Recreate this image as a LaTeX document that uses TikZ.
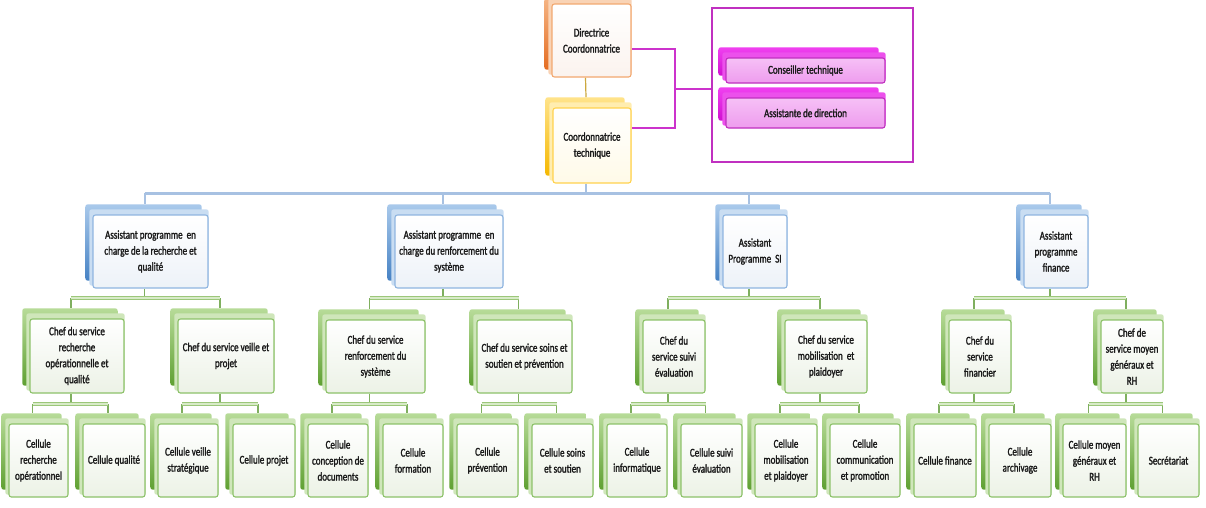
\documentclass[tikz,border=0pt]{standalone}
\usepackage{fontspec}
\setmainfont{Carlito}[FakeStretch=0.75,FakeBold=1.6]
\usetikzlibrary{calc}
\pgfdeclarelayer{lines}
\pgfdeclarelayer{backs}
\pgfsetlayers{lines,backs,main}
% green
\definecolor{gtop}{HTML}{B7DB98}\definecolor{gbot}{HTML}{5FA032}\definecolor{gmid}{HTML}{CFE6BA}
\definecolor{gline}{HTML}{8DC26A}\definecolor{gfill}{HTML}{ECF2E6}
\definecolor{gbarin}{HTML}{D8EBC8}\definecolor{gbarout}{HTML}{9CC77A}
% blue
\definecolor{btop}{HTML}{A9C9EB}\definecolor{bbot}{HTML}{4682C4}\definecolor{bmid}{HTML}{C9DDF2}
\definecolor{bline}{HTML}{8FB5E0}\definecolor{bfill}{HTML}{EDF2F8}
\definecolor{bbarc}{HTML}{A7C1E2}
% orange
\definecolor{otop}{HTML}{F6B98A}\definecolor{obot}{HTML}{E46C22}\definecolor{omid}{HTML}{F9D3B5}
\definecolor{oline}{HTML}{F2A870}\definecolor{ofill}{HTML}{FBF3EE}
% yellow
\definecolor{ytop}{HTML}{FFE38A}\definecolor{ybot}{HTML}{F5B800}\definecolor{ymid}{HTML}{FFEDB0}
\definecolor{yline}{HTML}{FFD24D}\definecolor{yfill}{HTML}{FFFAE8}
% magenta
\definecolor{mtop}{HTML}{F040F0}\definecolor{mbot}{HTML}{D010D0}\definecolor{mmid}{HTML}{EC50EC}
\definecolor{mline}{HTML}{C030C0}\definecolor{mfill}{HTML}{EE9CEE}\definecolor{mfilltop}{HTML}{F6C0F6}
\definecolor{mconn}{HTML}{CC33CC}
\definecolor{txt}{HTML}{1A1A1A}
\tikzset{
  card/.style={draw=#1line, line width=1.1pt, top color=white, bottom color=#1fill,
    rounded corners=2.5pt, align=center, inner sep=1pt, text=txt,
    font=\fontsize{12}{16}\selectfont},
  tconn/.style={draw=yline!80!black, line width=1.2pt},
  mlink/.style={draw=mconn, line width=2pt},
  mframe/.style={draw=mline, line width=1.8pt, minimum width=201pt, minimum height=154pt, inner sep=0pt},
  bvl/.style={draw=bbarc, line width=2pt},
  bbar/.style={draw=bbarc, line width=3pt},
  gvl/.style={draw=gline!90!black, line width=1.2pt},
  gbar/.style={draw=gbarout, line width=0.7pt, double=gbarin, double distance=2.5pt},
}
\newcommand\orgcard[8][]{%
  \node[card=#7,minimum width={(#5-#3)*1pt},minimum height={(#6-#4)*1pt},#1] (#2) at ({(#3+#5)/2},{(#4+#6)/2}) {#8};
  \coordinate (#2-t) at ([xshift=-6pt,yshift=10pt]#2.north);
  \coordinate (#2-b) at ([xshift=-6pt]#2.south);
  \begin{pgfonlayer}{backs}
    \shade[top color=#7top,bottom color=#7bot,rounded corners=2pt] ([xshift=-7pt,yshift=10pt]#2.north west) rectangle ([xshift=-7pt,yshift=8pt]#2.south east);
    \fill[#7mid,rounded corners=2pt] ([xshift=-3pt,yshift=5pt]#2.north west) rectangle ([yshift=3pt]#2.south east);
  \end{pgfonlayer}}
\begin{document}
\begin{tikzpicture}[x=1pt,y=-1pt]
\useasboundingbox (0,0) rectangle (1206,507);
\begin{pgfonlayer}{lines}
\fill[white] (0,0) rectangle (1206,507);
\end{pgfonlayer}
% top
\orgcard{dir}{552}{4}{631}{77}{o}{Directrice\\Coordonnatrice}
\orgcard{coord}{553}{108}{631}{183}{y}{Coordonnatrice\\technique}
\node[mframe] (mframe) at (812.5,85) {};
\orgcard[top color=mfilltop]{cons}{726}{58}{885}{83}{m}{Conseiller technique}
\orgcard[top color=mfilltop]{asst}{726}{98}{885}{128}{m}{Assistante de direction}
% level 2
\orgcard{a1}{93}{215}{208}{288}{b}{Assistant programme \ en\\charge de la recherche et\\qualité}
\orgcard{a2}{395}{215}{503}{288}{b}{Assistant programme \ en\\charge du renforcement du\\système}
\orgcard{a3}{723}{215}{787}{288}{b}{Assistant\\Programme \ SI}
\orgcard{a4}{1024}{215}{1088}{288}{b}{Assistant\\programme\\finance}
% level 3
\orgcard{s1}{30}{319}{124}{393}{g}{Chef du service\\recherche\\opérationnelle et\\qualité}
\orgcard{s2}{178}{319}{274}{393}{g}{Chef du service veille et\\projet}
\orgcard{s3}{326}{320}{425}{393}{g}{Chef du service\\renforcement du\\système}
\orgcard{s4}{477}{320}{572}{393}{g}{Chef du service soins et\\soutien et prévention}
\orgcard{s5}{643}{320}{705}{393}{g}{Chef du\\service suivi\\évaluation}
\orgcard{s6}{785}{320}{867}{393}{g}{Chef du service\\mobilisation \ et\\plaidoyer}
\orgcard{s7}{949}{320}{1011}{393}{g}{Chef du\\service\\financier}
\orgcard{s8}{1101}{320}{1163}{393}{g}{Chef de\\service moyen\\généraux et\\RH}
% level 4
\orgcard{c1}{9}{424}{68}{497}{g}{Cellule\\recherche\\opérationnel}
\orgcard{c2}{83}{424}{145}{497}{g}{Cellule qualité}
\orgcard{c3}{158}{424}{218}{497}{g}{Cellule veille\\stratégique}
\orgcard{c4}{233}{424}{295}{497}{g}{Cellule projet}
\orgcard{c5}{308}{424}{368}{497}{g}{Cellule\\conception de\\documents}
\orgcard{c6}{383}{424}{443}{497}{g}{Cellule\\formation}
\orgcard{c7}{457}{424}{518}{497}{g}{Cellule\\prévention}
\orgcard{c8}{532}{424}{593}{497}{g}{Cellule soins\\et soutien}
\orgcard{c9}{607}{424}{667}{497}{g}{Cellule\\informatique}
\orgcard{c10}{681}{424}{742}{497}{g}{Cellule suivi\\évaluation}
\orgcard{c11}{755}{424}{817}{497}{g}{Cellule\\mobilisation\\et plaidoyer}
\orgcard{c12}{830}{424}{900}{497}{g}{Cellule\\communication\\et promotion}
\orgcard{c13}{914}{424}{976}{497}{g}{Cellule finance}
\orgcard{c14}{989}{424}{1051}{497}{g}{Cellule\\archivage}
\orgcard{c15}{1063}{424}{1126}{497}{g}{Cellule moyen\\généraux et\\RH}
\orgcard{c16}{1138}{424}{1199}{497}{g}{Secrétariat}
% connectors
\coordinate (mj) at (675,89);
\coordinate (y0) at (0,193);
\coordinate (y1) at (0,298);
\coordinate (y2) at (0,404);
\begin{pgfonlayer}{lines}
\draw[tconn] (dir-b) -- (coord-t);
\draw[mlink] ([yshift=-8.5pt]dir.east) -| (mj) |- ([yshift=17.5pt]coord.east);
\draw[mlink] (mj) -- (mframe.west |- mj);
\draw[bvl] (coord-b) -- (coord-b |- y0);
\foreach \a in {a1,a2,a3,a4}{\draw[bvl] (\a-t |- y0) -- (\a-t);}
\draw[bbar] (a1-t |- y0) -- (a4-t |- y0);
\foreach \p/\c/\d in {a1/s1/s2,a2/s3/s4,a3/s5/s6,a4/s7/s8}{
  \draw[gvl] (\p-b) -- (\p-b |- y1);
  \draw[gvl] (\c-t |- y1) -- (\c-t);
  \draw[gvl] (\d-t |- y1) -- (\d-t);
  \draw[gbar] (\c-t |- y1) -- (\d-t |- y1);
}
\foreach \p/\c/\d in {s1/c1/c2,s2/c3/c4,s3/c5/c6,s4/c7/c8,s5/c9/c10,s6/c11/c12,s7/c13/c14,s8/c15/c16}{
  \draw[gvl] (\p-b) -- (\p-b |- y2);
  \draw[gvl] (\c-t |- y2) -- (\c-t);
  \draw[gvl] (\d-t |- y2) -- (\d-t);
  \draw[gbar] (\c-t |- y2) -- (\d-t |- y2);
}
\end{pgfonlayer}
\end{tikzpicture}
\end{document}
